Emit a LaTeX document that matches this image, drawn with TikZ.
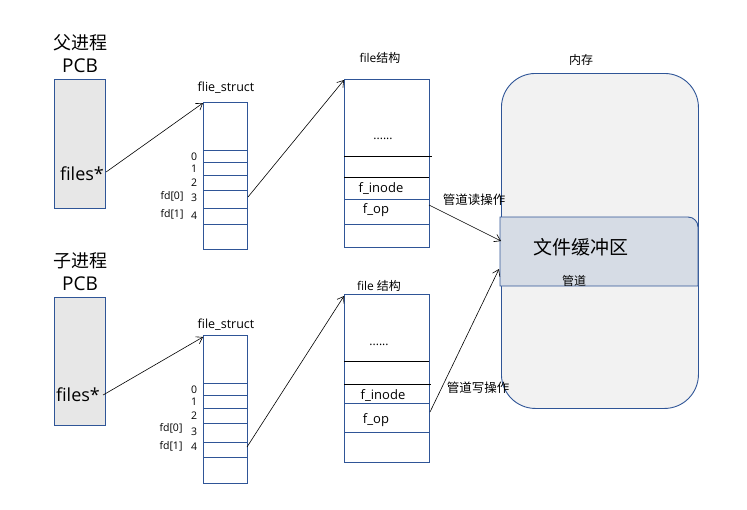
\documentclass[tikz,border=0pt]{standalone}
\usepackage{fontspec}
\setmainfont{Open Sans}
\newfontfamily\cjk{Noto Sans CJK SC}
\usetikzlibrary{arrows.meta}
\definecolor{bd}{RGB}{47,85,151}
\definecolor{pcbfill}{RGB}{231,231,231}
\definecolor{memfill}{RGB}{242,242,242}
\definecolor{buffill}{RGB}{214,220,229}
\begin{document}
\begin{tikzpicture}[x=1pt,y=-1pt,
  box/.style={draw=bd, line width=0.9pt, anchor=north west, inner sep=0pt},
  row/.style={draw=bd, line width=0.9pt},
  blk/.style={draw=black, line width=0.9pt},
  txt/.style={inner sep=0pt, font=\fontsize{#1}{#1}\selectfont},
  ctxt/.style={inner sep=0pt, font=\cjk\fontsize{#1}{#1}\selectfont},
  arr/.style={-{Straight Barb[length=6pt,width=8pt]}, line width=0.6pt}]
\useasboundingbox (0,0) rectangle (747,509);

% ---------- parent process ----------
\node[ctxt=18] (ptitle) at (80,43) {父进程};
\node[txt=19] (ppcb) at (80,66) {PCB};
\node[box, fill=pcbfill, minimum width=51pt, minimum height=129pt] (pcb1) at (54,79) {};
\node[txt=18] (files1) at (82,174) {files*};

\node[txt=12.5] (fs1title) at (226,88) {flie\_struct};
\node[box, minimum width=44pt, minimum height=147pt] (fs1) at (203,102) {};
\foreach \yy in {150,162,175,190,208,224} \draw[row] (203,\yy) -- (247,\yy);
\node[txt=10.5] (p0) at (194,157) {0};
\node[txt=10.5] (p1) at (194,169) {1};
\node[txt=10.5] (p2) at (194,183) {2};
\node[txt=10.5] (p3) at (194,198) {3};
\node[txt=10.5] (p4) at (194,216) {4};
\node[txt=10.5] (pfd0) at (172,196) {fd[0]};
\node[txt=10.5] (pfd1) at (172,214) {fd[1]};

\node[txt=12] (f1title) at (380,58) {file{\cjk 结构}};
\node[box, minimum width=85pt, minimum height=168pt] (file1) at (344,79) {};
\draw[blk] (344,156) -- (432,156);
\draw[blk] (344,177) -- (429,177);
\draw[row] (344,199) -- (429,199);
\draw[row] (344,224) -- (429,224);
\node[txt=12] (f1dots) at (383,139) {......};
\node[txt=13] (f1inode) at (381,189) {f\_inode};
\node[txt=13] (f1op) at (376,210) {f\_op};

% ---------- child process ----------
\node[ctxt=18] (ctitle) at (80,261) {子进程};
\node[txt=19] (cpcb) at (80,284) {PCB};
\node[box, fill=pcbfill, minimum width=51pt, minimum height=128pt] (pcb2) at (54,297) {};
\node[txt=18] (files2) at (78,395) {files*};

\node[txt=12.5] (fs2title) at (226,325) {file\_struct};
\node[box, minimum width=44pt, minimum height=148pt] (fs2) at (203,335) {};
\foreach \yy in {383,395,408,423,442,457} \draw[row] (203,\yy) -- (247,\yy);
\node[txt=10.5] (c0) at (194,390) {0};
\node[txt=10.5] (c1) at (194,402) {1};
\node[txt=10.5] (c2) at (194,416) {2};
\node[txt=10.5] (c3) at (194,432) {3};
\node[txt=10.5] (c4) at (194,447) {4};
\node[txt=10.5] (cfd0) at (171,428) {fd[0]};
\node[txt=10.5] (cfd1) at (171,446) {fd[1]};

\node[txt=12] (f2title) at (379,286) {file {\cjk 结构}};
\node[box, minimum width=85pt, minimum height=168pt] (file2) at (344,294) {};
\draw[blk] (344,361) -- (429,361);
\draw[blk] (344,384) -- (431,384);
\draw[row] (344,403) -- (429,403);
\draw[row] (344,432) -- (429,432);
\node[txt=12] (f2dots) at (379,345) {......};
\node[txt=13] (f2inode) at (383,396) {f\_inode};
\node[txt=13] (f2op) at (376,420) {f\_op};

% ---------- memory ----------
\node[ctxt=12] (memtitle) at (581,60) {内存};
\node[box, fill=memfill, rounded corners=34pt, minimum width=197pt, minimum height=335pt] (mem) at (501,73) {};
\path[draw=bd, fill=buffill, line width=0.9pt]
  (500,286) -- (500,217) -- (688,217) arc[start angle=90, end angle=0, radius=10pt] -- (698,286) -- cycle;
\node[ctxt=19] (buf) at (581,247) {文件缓冲区};
\node[ctxt=12] (pipe) at (574,281) {管道};

% ---------- connectors ----------
\coordinate (a1) at (203,103);
\coordinate (a2) at (344,80);
\coordinate (a3) at (203,337);
\coordinate (a4) at (344,296);
\coordinate (s1) at (248,197);
\coordinate (s2) at (247,447);
\coordinate (r0) at (429,205);
\coordinate (r1) at (501,241);
\coordinate (w0) at (430,412);
\coordinate (w1) at (499,269);
\draw[arr] (files1.east) ++(2,-2) -- (a1);
\draw[arr] (s1) -- (a2);
\draw[arr] (files2.east) ++(3,0) -- (a3);
\draw[arr] (s2) -- (a4);
\draw[arr] (r0) -- (r1);
\draw[arr] (w0) -- (w1);
\node[ctxt=12.5] (readlbl) at (474,200) {管道读操作};
\node[ctxt=12.5] (writelbl) at (478,388) {管道写操作};
\end{tikzpicture}
\end{document}
